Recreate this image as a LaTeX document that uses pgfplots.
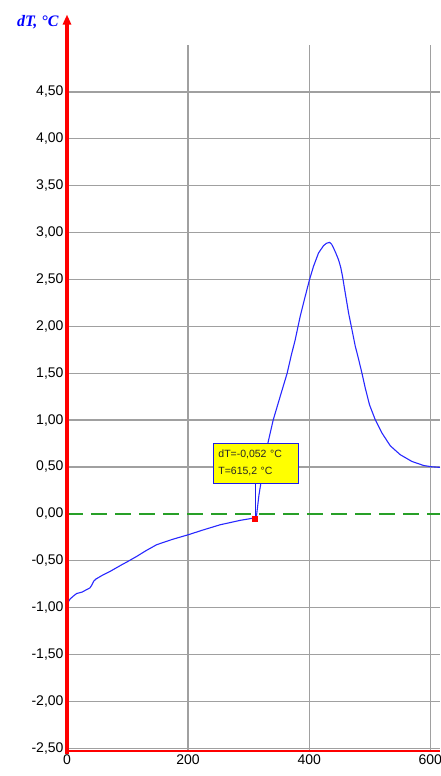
\documentclass[border=0pt]{standalone}
\usepackage{pgfplots}
\pgfplotsset{compat=1.18}
\usepackage{fontspec}
\setmainfont{Liberation Sans}
\newfontfamily\serifbi{Liberation Serif}
\usetikzlibrary{arrows.meta}
\definecolor{gridgray}{RGB}{160,160,160}
\definecolor{curveblue}{RGB}{40,40,255}
\definecolor{zerogreen}{RGB}{40,160,40}
\definecolor{tipyellow}{RGB}{255,255,0}
\definecolor{tipblue}{RGB}{30,30,230}
\begin{document}
\begin{tikzpicture}[x=1pt,y=1pt]
\begin{axis}[
  at={(0,0)}, anchor=south west,
  scale only axis, width=373pt, height=706pt,
  xmin=0, xmax=616, ymin=-2.53, ymax=5.0,
  axis x line*=bottom, axis y line*=left,
  axis line style={draw=none},
  xtick={0,200,400,600},
  ytick={-2.5,-2,-1.5,-1,-0.5,0,0.5,1,1.5,2,2.5,3,3.5,4,4.5},
  grid=major,
  major grid style={gridgray, line width=1.3pt},
  major tick length=0pt,
  tick style={draw=none},
  /pgf/number format/assume math mode=true,
  tick label style={font=\fontsize{14}{16}\selectfont, text=black},
  yticklabel style={/pgf/number format/.cd, fixed, fixed zerofill, precision=2, use comma},
  xticklabel style={/pgf/number format/.cd, fixed, precision=0, 1000 sep={}},
  clip=false,
]
\addplot[draw=white, line width=2pt, forget plot] coordinates {(0,0) (616,0)};
\addplot[draw=zerogreen, solid, line width=1.6pt, dash pattern=on 16pt off 8pt] coordinates {(0,0) (616,0)};
\addplot[draw=curveblue, line width=1.1pt] coordinates {
(0,-0.98) (3,-0.93) (5,-0.91) (10,-0.88) (16,-0.85) (25,-0.835) (32,-0.81)
(38,-0.79) (41,-0.76) (44,-0.72) (48,-0.695) (60,-0.65) (71,-0.615)
(90,-0.545) (100,-0.51) (115,-0.455) (130,-0.395) (148,-0.33) (173,-0.275)
(200,-0.224) (226,-0.17) (253,-0.117) (270,-0.093) (286,-0.07)
(300,-0.055) (308,-0.045) (310,-0.052) (313,-0.02) (317,0.2) (324.5,0.50)
(332,0.76) (340.5,1.00) (352,1.25) (363.6,1.50) (370,1.68) (376.9,1.857)
(385.1,2.106) (393.4,2.319) (400.5,2.497) (407.1,2.639) (415.4,2.782)
(423.7,2.860) (428.5,2.885) (433.6,2.895) (437,2.875) (440.2,2.835)
(444,2.78) (448.4,2.71) (452,2.63) (455,2.533) (459.5,2.355) (465,2.142)
(470.6,1.964) (476,1.79) (481.5,1.65) (487.1,1.50) (492.6,1.34)
(499.7,1.16) (509.1,1.003) (520.2,0.861) (533.9,0.725) (550.4,0.63)
(569.7,0.558) (589,0.515) (601.2,0.502) (616,0.495)
};
\draw[tipblue, line width=1pt] (axis cs:311,0.33) -- (axis cs:311,-0.052);
\addplot[only marks, mark=square*, mark size=2.3pt, red] coordinates {(310,-0.052)};
\node[draw=tipblue, fill=tipyellow, line width=1pt, anchor=north west,
      text width=75pt, minimum height=40pt, inner xsep=5pt, inner ysep=3pt, align=left,
      font=\fontsize{10.5}{17}\selectfont, text=black!85]
  at (axis cs:241,0.758) {dT=-0,052 °C\\T=615,2 °C};
\draw[red, line width=2.8pt] (axis cs:0,-2.53) -- (axis cs:616,-2.53);
\draw[red, line width=3.5pt, -{Triangle[width=8pt,length=10pt]}] (axis cs:0,-2.56) -- (axis cs:0,5.325);
\end{axis}
\node[anchor=east, text=blue, font=\serifbi\bfseries\itshape\fontsize{16}{18}\selectfont] at (-5,729) {dT, °C};
\pgfresetboundingbox
\useasboundingbox (-67,-25) rectangle (373,751);
\end{tikzpicture}
\end{document}
